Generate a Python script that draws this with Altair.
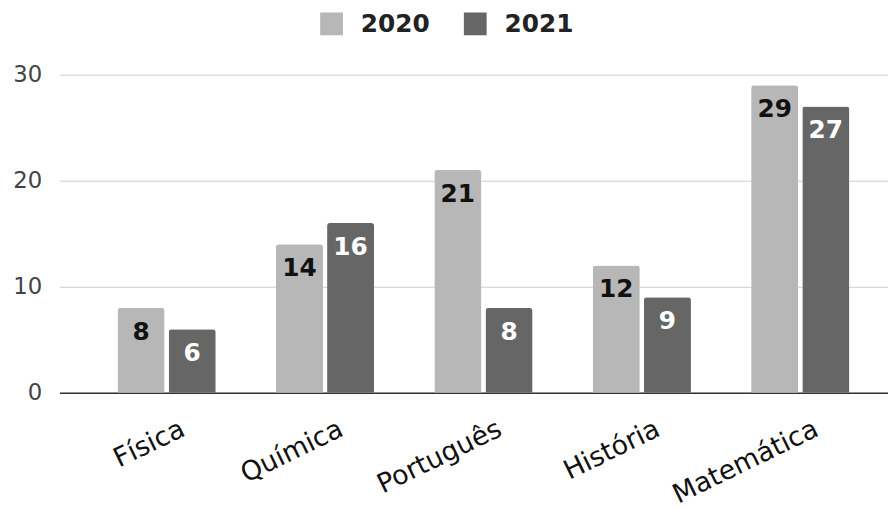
import altair as alt
import pandas as pd

subjects = ["Física", "Química", "Português", "História", "Matemática"]
years = ["2020", "2021"]
values_2020 = [8, 14, 21, 12, 29]
values_2021 = [6, 16, 8, 9, 27]
colors = ["#b7b7b7", "#666666"]

rows = []
for s, a, b in zip(subjects, values_2020, values_2021):
    rows.append({"subject": s, "year": "2020", "value": a})
    rows.append({"subject": s, "year": "2021", "value": b})
df = pd.DataFrame(rows)

FONT = "DejaVu Sans"

x = alt.X("subject:N", sort=subjects,
          scale=alt.Scale(paddingInner=0.38, paddingOuter=0.305, align=0.6),
          axis=alt.Axis(title=None, labelAngle=-26, labelFontSize=27, labelFont=FONT,
                        labelColor="#111111", ticks=False, labelPadding=23, labelOffset=11,
                        labelAlign="right", labelBaseline="top",
                        domainColor="#333333", domainWidth=1.5, grid=False))
xo = alt.XOffset("year:N", sort=years, scale=alt.Scale(paddingInner=0.08))
y = alt.Y("value:Q", scale=alt.Scale(domain=[0, 30]),
          axis=alt.Axis(title=None, values=[0, 10, 20, 30], labelFontSize=23, labelFont=FONT,
                        labelColor="#444444", ticks=False, domain=False, labelPadding=18,
                        gridColor="#cccccc", gridWidth=1))

bars = alt.Chart(df).mark_bar(cornerRadiusTopLeft=3, cornerRadiusTopRight=3).encode(
    x=x, xOffset=xo, y=y,
    color=alt.Color("year:N", sort=years,
                    scale=alt.Scale(domain=years, range=colors),
                    legend=alt.Legend(title=None, orient="none", legendX=262, legendY=-64,
                                      direction="horizontal", symbolType="square",
                                      symbolSize=529, symbolStrokeWidth=0,
                                      labelFontSize=25, labelFont=FONT, labelFontWeight="bold",
                                      labelColor="#222222", labelOffset=17, columnPadding=33,
                                      padding=0)),
)

labels_2020 = alt.Chart(df).transform_filter(alt.datum.year == "2020").mark_text(
    baseline="middle", dy=24, fontSize=25, fontWeight="bold", font=FONT, color="#111111"
).encode(x=x, xOffset=xo, y=y, text="value:Q")

labels_2021 = alt.Chart(df).transform_filter(alt.datum.year == "2021").mark_text(
    baseline="middle", dy=24, fontSize=25, fontWeight="bold", font=FONT, color="#ffffff"
).encode(x=x, xOffset=xo, y=y, text="value:Q")

chart = alt.layer(bars, labels_2020, labels_2021).properties(
    width=836, height=321,
    autosize=alt.AutoSizeParams(type="none"),
    padding={"left": 52, "top": 65, "right": 0, "bottom": 115},
).configure_view(stroke=None)

chart.save("out.html", embed_options={"renderer": "svg", "actions": False})
